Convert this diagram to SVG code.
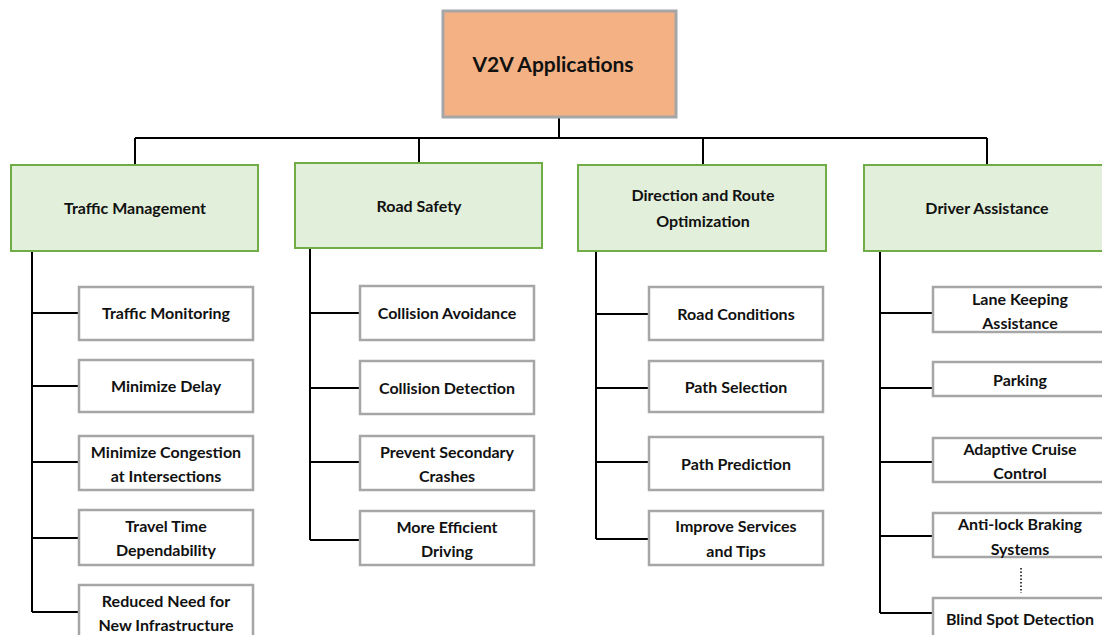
<svg xmlns="http://www.w3.org/2000/svg" width="1102" height="635" viewBox="0 0 1102 635">
<style>
.root{fill:#F4B183;stroke:#A6A6A6;stroke-width:3}
.cat{fill:#E2EFDA;stroke:#70AD47;stroke-width:2}
.leaf{fill:#FFFFFF;stroke:#A6A6A6;stroke-width:2.5}
text{font-family:Lato,"Liberation Sans",sans-serif;font-weight:bold;font-size:16px;fill:#111;text-anchor:middle}
.big{font-size:21px}
.conn{fill:none;stroke:#000;stroke-width:2}
</style>
<rect width="1102" height="635" fill="#fff"/>
<g id="connectors">
<path class="conn" d="M559 117V138M135 138H987M135 138V165M419 138V163M703 138V165M987 138V165"/>
<path class="conn" d="M32 251V612M32 313H79M32 386H79M32 462H79M32 538H79M32 612H79"/>
<path class="conn" d="M310 248V540M310 313H360M310 388H360M310 462H360M310 540H360"/>
<path class="conn" d="M596 251V539M596 314H649M596 388H649M596 462H649M596 539H649"/>
<path class="conn" d="M880 251V613M880 313H933M880 388H933M880 462H933M880 536H933M880 613H933"/>
<path d="M1021 568V593" fill="none" stroke="#000" stroke-width="1.5" stroke-dasharray="1.5,2"/>
</g>
<g id="root"><rect class="root" x="443" y="11" width="233" height="106"/><text class="big" x="553" y="72">V2V Applications</text></g>
<g id="traffic-management"><rect class="cat" x="11" y="165" width="247" height="86"/><text x="135" y="214">Traffic Management</text></g>
<g id="road-safety"><rect class="cat" x="295" y="163" width="247" height="85"/><text x="419" y="212">Road Safety</text></g>
<g id="direction-route"><rect class="cat" x="578" y="165" width="248" height="86"/><text x="703" y="201">Direction and Route</text><text x="703" y="227">Optimization</text></g>
<g id="driver-assistance"><rect class="cat" x="864" y="165" width="250" height="86"/><text x="987" y="214">Driver Assistance</text></g>

<g id="traffic-monitoring"><rect class="leaf" x="79" y="287" width="174" height="53"/><text x="166" y="319">Traffic Monitoring</text></g>
<g id="minimize-delay"><rect class="leaf" x="79" y="360" width="174" height="52"/><text x="166" y="392">Minimize Delay</text></g>
<g id="minimize-congestion"><rect class="leaf" x="79" y="436" width="174" height="54"/><text x="166" y="458">Minimize Congestion</text><text x="166" y="482">at Intersections</text></g>
<g id="travel-time"><rect class="leaf" x="79" y="510" width="174" height="55"/><text x="166" y="532">Travel Time</text><text x="166" y="556">Dependability</text></g>
<g id="reduced-need"><rect class="leaf" x="79" y="585" width="174" height="60"/><text x="166" y="607">Reduced Need for</text><text x="166" y="631">New Infrastructure</text></g>

<g id="collision-avoidance"><rect class="leaf" x="360" y="286" width="174" height="54"/><text x="447" y="319">Collision Avoidance</text></g>
<g id="collision-detection"><rect class="leaf" x="360" y="361" width="174" height="53"/><text x="447" y="394">Collision Detection</text></g>
<g id="prevent-secondary"><rect class="leaf" x="360" y="436" width="174" height="54"/><text x="447" y="458">Prevent Secondary</text><text x="447" y="482">Crashes</text></g>
<g id="more-efficient"><rect class="leaf" x="360" y="511" width="174" height="54"/><text x="447" y="533">More Efficient</text><text x="447" y="557">Driving</text></g>

<g id="road-conditions"><rect class="leaf" x="649" y="287" width="174" height="53"/><text x="736" y="320">Road Conditions</text></g>
<g id="path-selection"><rect class="leaf" x="649" y="361" width="174" height="51"/><text x="736" y="393">Path Selection</text></g>
<g id="path-prediction"><rect class="leaf" x="649" y="437" width="174" height="53"/><text x="736" y="470">Path Prediction</text></g>
<g id="improve-services"><rect class="leaf" x="649" y="511" width="174" height="54"/><text x="736" y="532">Improve Services</text><text x="736" y="557">and Tips</text></g>

<g id="lane-keeping"><rect class="leaf" x="933" y="287" width="178" height="45"/><text x="1020" y="305">Lane Keeping</text><text x="1020" y="329">Assistance</text></g>
<g id="parking"><rect class="leaf" x="933" y="362" width="178" height="34"/><text x="1020" y="386">Parking</text></g>
<g id="adaptive-cruise"><rect class="leaf" x="933" y="438" width="178" height="44"/><text x="1020" y="455">Adaptive Cruise</text><text x="1020" y="479">Control</text></g>
<g id="anti-lock"><rect class="leaf" x="933" y="513" width="178" height="44"/><text x="1020" y="530">Anti-lock Braking</text><text x="1020" y="555">Systems</text></g>
<g id="blind-spot"><rect class="leaf" x="933" y="598" width="178" height="50"/><text x="1020" y="625">Blind Spot Detection</text></g>
</svg>
